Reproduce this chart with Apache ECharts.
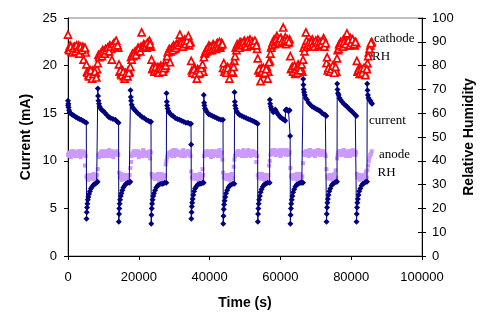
<!DOCTYPE html>
<html><head><meta charset="utf-8">
<script src="https://cdn.jsdelivr.net/npm/echarts@6/dist/echarts.min.js"></script>
<style>html,body{margin:0;padding:0;background:#fff}#c{width:492px;height:328px}</style>
</head><body><div id="c"></div>
<script>
// ---- Current (mA) vs time (s) ----
const currentTime = [
  0,40,100,180,300,450,650,1000,1400,1800,2200,2700,3200,3700,4200,4700,5170,
  5230,5300,5380,5480,5600,5750,5950,6200,6500,6850,7250,7700,8100,8360,
  8420,8500,8600,8750,8930,9200,9600,10060,10500,11000,11470,12000,12700,13360,13900,14290,
  14350,14420,14500,14600,14730,14900,15100,15350,15650,16000,16400,16850,17300,17600,
  17660,17740,17840,18000,18300,18700,19200,19700,20300,20900,21500,22100,22700,23200,23450,
  23510,23580,23660,23760,23900,24080,24300,24600,24950,25350,25800,26300,26800,27300,27770,
  27830,27910,28000,28150,28400,28750,29200,29700,30300,30900,31500,32100,32700,33300,33900,34400,34750,34790,
  34830,34900,34980,35080,35220,35400,35620,35900,36250,36650,37100,37550,38000,38310,
  38370,38450,38550,38700,38950,39300,39750,40250,40800,41400,42000,42600,43200,43790,
  43850,43920,44000,44100,44240,44420,44650,44950,45300,45700,46150,46600,46980,
  47040,47120,47220,47380,47650,48000,48500,49100,49700,50300,50900,51500,52100,52700,53200,53560,
  53620,53690,53770,53870,54000,54180,54400,54700,55050,55450,55900,56400,56950,
  57010,57100,57250,57450,57700,58000,58300,58550,58800,59100,59500,59900,60300,60700,61100,61350,61450,61700,62000,62300,62600,62750,
  62820,62890,62970,63070,63200,63380,63600,63900,64250,64650,65100,65600,66050,66380,
  66440,66500,66580,66700,66900,67150,67500,67950,68450,68950,69450,69900,70400,70850,71300,71800,72300,72700,72970,
  73030,73100,73180,73280,73410,73590,73810,74100,74450,74850,75300,75750,75990,
  76050,76130,76250,76450,76700,77000,77400,77900,78400,78800,79300,79800,80200,80700,81160,81440,
  81500,81570,81650,81750,81880,82060,82280,82570,82920,83320,83770,84200,84460,
  84520,84600,84720,84900,85150,85400,85650,85900
];
const currentValue = [
  16.3,15.8,16.0,15.6,15.3,15.1,15.0,14.9,14.8,14.7,14.6,14.5,14.4,14.3,14.2,14.1,14.0,
  3.9,4.6,5.1,5.5,5.9,6.2,6.5,6.8,7.1,7.3,7.5,7.6,7.7,7.8,
  17.6,16.8,16.3,16.0,15.7,15.5,15.3,15.2,15.0,14.8,14.6,14.5,14.4,14.3,14.1,14.0,
  3.6,4.4,5.0,5.5,5.9,6.3,6.6,6.9,7.2,7.4,7.6,7.7,7.7,7.8,
  17.4,16.7,16.3,15.9,15.6,15.4,15.2,15.0,14.8,14.6,14.5,14.3,14.2,14.1,14.1,
  3.4,4.3,5.0,5.5,5.9,6.3,6.6,6.9,7.2,7.4,7.5,7.6,7.6,7.7,7.7,
  17.1,16.2,15.8,15.5,15.2,15.0,14.8,14.7,14.5,14.4,14.3,14.2,14.1,14.0,14.0,13.9,13.9,11.7,
  3.9,4.6,5.2,5.6,6.0,6.4,6.8,7.1,7.3,7.5,7.6,7.6,7.7,7.7,
  16.9,16.1,15.8,15.5,15.3,15.1,14.9,14.8,14.7,14.6,14.5,14.4,14.3,14.3,
  3.4,4.2,4.9,5.4,5.8,6.2,6.6,6.9,7.2,7.4,7.5,7.6,7.6,
  17.2,16.2,15.8,15.5,15.2,15.0,14.8,14.7,14.6,14.5,14.4,14.3,14.2,14.1,14.0,13.9,
  3.6,4.4,5.0,5.5,5.9,6.3,6.7,7.0,7.3,7.5,7.6,7.7,7.7,
  16.4,16.0,15.7,15.5,15.3,15.1,15.2,15.4,15.2,15.0,14.8,14.6,14.5,14.4,14.3,14.2,15.3,15.4,15.3,15.2,15.3,12.6,
  3.4,4.3,5.0,5.5,5.9,6.3,6.7,7.0,7.3,7.5,7.6,7.7,7.7,7.7,
  18.6,18.0,17.5,17.2,16.9,16.6,16.4,16.1,15.9,15.7,15.6,15.5,15.4,15.3,15.2,15.0,14.9,14.8,14.7,
  3.6,4.4,5.1,5.6,6.0,6.4,6.8,7.1,7.4,7.6,7.7,7.8,7.8,
  18.1,17.5,17.1,16.9,16.6,16.4,16.2,16.0,15.8,15.7,15.5,15.3,15.2,15.0,14.8,14.7,
  3.6,4.4,5.1,5.6,6.0,6.4,6.8,7.1,7.4,7.6,7.7,7.8,7.8,
  18.1,17.4,16.9,16.6,16.4,16.3,16.1,16.0
];

// ---- Relative humidity, first sample set (s) ----
const rhTime = [
  0,400,800,1200,1600,2000,2400,2800,3200,3600,4000,4400,4800,
  5200,5600,6000,6400,6800,7200,7600,8000,
  8400,8800,9200,9600,10000,10400,10800,11200,11600,12000,12400,12800,13200,13600,14000,
  14400,14800,15200,15600,16000,16400,16800,17200,17600,
  18000,18400,18800,19200,19600,20000,20400,20800,21200,21600,22000,22400,22800,23200,
  23600,24000,24400,24800,25200,25600,26000,26400,26800,27200,27600,
  28000,28400,28800,29200,29600,30000,30400,30800,31200,31600,32000,32400,32800,33200,33600,34000,34400,
  34800,35200,35600,36000,36400,36800,37200,37600,38000,
  38400,38800,39200,39600,40000,40400,40800,41200,41600,42000,42400,42800,43200,43600,
  44000,44400,44800,45200,45600,46000,46400,46800,
  47200,47600,48000,48400,48800,49200,49600,50000,50400,50800,51200,51600,52000,52400,52800,53200,
  53600,54000,54400,54800,55200,55600,56000,56400,56800,
  57200,57600,58000,58400,58800,59200,59600,60000,60400,60800,61200,61600,62000,62400,
  62800,63200,63600,64000,64400,64800,65200,65600,66000,
  66400,66800,67200,67600,68000,68400,68800,69200,69600,70000,70400,70800,71200,71600,72000,72400,72800,
  73200,73600,74000,74400,74800,75200,75600,
  76000,76400,76800,77200,77600,78000,78400,78800,79200,79600,80000,80400,80800,81200,
  81600,82000,82400,82800,83200,83600,84000,84400,
  84800,85200,85600
];
const cathodeRH = [
  93.0,86.5,88.0,85.5,87.5,86.0,88.5,87.0,85.0,88.0,86.5,82.5,87.5,
  80.5,77.0,75.5,78.0,74.5,76.5,77.5,75.0,
  81.0,83.5,85.0,84.0,86.0,85.0,86.5,87.5,86.0,88.0,82.5,89.0,88.0,90.5,88.5,
  80.5,78.0,76.0,77.5,74.5,76.5,75.5,77.0,79.5,
  82.5,84.0,85.5,84.5,86.5,87.0,86.0,94.0,87.5,88.5,88.0,89.5,88.5,89.0,
  82.5,79.0,77.5,79.5,78.0,77.0,79.0,78.5,77.5,79.0,80.0,
  84.0,86.0,81.5,87.0,86.5,88.0,87.5,89.0,88.5,93.0,89.5,88.0,90.0,89.0,90.5,92.5,89.5,
  82.0,77.0,78.5,76.5,74.5,78.0,77.0,79.0,80.5,
  83.5,85.5,86.0,87.5,86.5,88.0,87.0,88.5,87.5,89.0,88.0,90.0,88.5,89.0,
  81.0,78.5,77.0,79.0,74.5,78.0,77.5,79.5,
  84.0,86.5,88.0,87.5,89.0,88.5,90.0,89.0,88.0,90.5,89.5,88.5,90.0,89.0,90.5,88.5,
  83.0,78.5,73.5,77.5,79.0,77.0,78.5,74.5,81.5,
  85.0,88.5,90.0,89.0,91.0,90.0,89.5,91.5,90.0,96.0,90.5,89.0,91.0,90.0,
  84.0,79.0,77.5,80.0,78.5,77.0,79.5,78.0,80.5,
  82.5,86.0,94.0,88.0,89.5,88.5,90.0,89.0,88.0,90.5,89.5,88.5,90.0,89.0,90.5,88.0,89.5,
  83.5,79.0,77.5,78.5,80.0,77.0,79.5,
  83.0,87.0,88.5,89.5,88.0,90.0,89.0,93.5,90.5,88.5,89.5,91.0,89.0,90.0,
  82.0,78.0,76.5,78.5,77.0,79.0,76.0,78.5,
  84.0,87.0,89.5
];
const anodeRH = [
  42.5,43.5,41.5,43.0,44.0,42.0,43.5,42.5,44.0,41.5,43.0,42.5,38.0,
  33.5,32.0,34.0,33.0,32.5,34.5,33.0,32.0,
  36.5,41.5,43.0,42.0,44.0,43.5,42.0,43.0,44.5,42.5,43.0,41.5,43.5,42.5,43.0,
  35.0,33.5,32.0,33.5,34.0,32.5,33.0,34.0,37.0,
  42.0,43.5,42.5,44.0,43.0,41.5,43.5,42.0,44.5,43.0,42.5,43.5,42.0,41.0,
  34.5,33.0,32.5,34.0,33.5,32.0,33.0,34.5,32.5,33.5,38.5,
  41.5,43.0,42.5,44.0,43.5,42.0,44.5,43.0,42.5,43.5,42.0,44.0,43.0,42.5,43.5,44.0,42.5,
  35.5,33.0,32.5,34.0,33.5,32.0,34.5,33.0,36.5,
  42.0,43.5,44.0,42.5,43.0,41.5,44.0,43.0,42.5,43.5,42.0,44.5,43.0,40.5,
  33.0,34.0,32.5,33.5,32.0,34.0,33.0,37.5,
  42.0,43.0,44.0,42.5,43.5,42.0,44.5,43.0,42.5,44.0,43.0,42.0,43.5,44.0,42.5,39.5,
  34.0,33.5,32.5,34.5,33.0,32.0,34.0,33.5,38.0,
  42.5,44.0,43.0,44.5,42.5,43.5,44.0,42.0,43.5,44.5,43.0,42.5,44.0,43.0,
  37.0,33.0,32.5,34.0,33.5,32.0,33.5,34.5,33.0,
  39.0,42.5,44.0,43.5,42.0,44.5,43.0,43.5,42.5,44.0,43.0,44.5,42.5,43.5,44.0,43.0,42.0,
  33.5,32.5,34.0,33.0,32.0,34.5,36.0,
  41.0,43.5,42.5,44.0,43.0,44.5,42.5,43.5,44.0,42.0,43.5,44.5,43.0,42.5,
  34.5,33.0,32.0,34.0,33.5,32.5,34.0,33.0,
  38.0,41.5,43.0
];

// ---- Relative humidity, second (interleaved) sample set (s) ----
const rhTime2 = [
  200,600,1000,1400,1800,2200,2600,3000,3400,3800,4200,4600,5000,
  5400,5800,6200,6600,7000,7400,7800,8200,
  8600,9000,9400,9800,10200,10600,11000,11400,11800,12200,12600,13000,13400,13800,14200,
  14600,15000,15400,15800,16200,16600,17000,17400,
  17800,18200,18600,19000,19400,19800,20200,20600,21000,21400,21800,22200,22600,23000,23400,
  23800,24200,24600,25000,25400,25800,26200,26600,27000,27400,
  27800,28200,28600,29000,29400,29800,30200,30600,31000,31400,31800,32200,32600,33000,33400,33800,34200,34600,
  35000,35400,35800,36200,36600,37000,37400,37800,38200,
  38600,39000,39400,39800,40200,40600,41000,41400,41800,42200,42600,43000,43400,
  43800,44200,44600,45000,45400,45800,46200,46600,
  47000,47400,47800,48200,48600,49000,49400,49800,50200,50600,51000,51400,51800,52200,52600,53000,53400,
  53800,54200,54600,55000,55400,55800,56200,56600,
  57000,57400,57800,58200,58600,59000,59400,59800,60200,60600,61000,61400,61800,62200,62600,
  63000,63400,63800,64200,64600,65000,65400,65800,66200,
  66600,67000,67400,67800,68200,68600,69000,69400,69800,70200,70600,71000,71400,71800,72200,72600,
  73000,73400,73800,74200,74600,75000,75400,75800,
  76200,76600,77000,77400,77800,78200,78600,79000,79400,79800,80200,80600,81000,81400,
  81800,82200,82600,83000,83400,83800,84200,
  84600,85000,85400,85800
];
const cathodeRH2 = [
  87.0,88.5,86.0,87.5,88.0,86.5,87.0,88.5,87.5,86.0,88.0,87.0,85.5,
  77.5,76.0,77.0,76.5,78.0,75.5,77.0,78.5,
  84.5,84.0,85.5,86.5,85.0,87.0,86.0,87.5,88.5,87.0,88.5,89.5,88.0,89.0,87.5,
  77.5,76.5,78.0,75.5,77.0,76.0,78.0,77.5,
  83.5,85.0,84.5,86.0,85.5,87.5,86.5,88.0,87.5,89.0,88.5,87.5,89.5,90.5,88.0,
  78.5,80.0,78.0,77.5,79.5,78.0,80.0,77.5,78.5,79.0,
  82.5,85.5,87.0,86.0,87.5,88.5,87.0,89.0,88.0,89.5,90.5,89.0,90.0,91.0,89.5,90.5,88.5,90.0,
  78.0,77.5,79.0,77.0,78.5,76.5,78.0,79.5,77.5,
  85.0,86.5,87.0,88.5,87.5,86.5,89.0,88.0,87.0,89.5,88.5,87.5,89.5,
  79.0,77.5,78.5,79.5,77.0,78.5,80.0,77.0,
  82.0,87.5,89.0,88.0,90.0,89.5,88.5,90.5,89.0,90.0,88.5,91.0,89.0,90.0,88.5,89.5,87.0,
  78.0,77.0,79.0,78.5,76.5,78.0,79.5,77.5,
  82.0,87.5,89.5,91.0,90.0,92.5,89.5,90.5,91.5,89.5,90.5,92.0,90.0,89.5,91.0,
  78.5,79.5,78.0,76.5,79.0,80.5,78.0,79.0,77.5,
  87.5,89.0,90.5,89.0,88.5,90.5,91.0,89.5,88.5,90.0,91.0,89.5,88.5,90.0,91.5,89.0,
  81.0,78.0,79.5,77.5,78.5,80.0,78.0,77.5,
  86.5,89.0,90.0,88.5,91.0,89.5,90.5,88.5,90.0,91.5,89.0,90.5,88.5,89.5,
  77.5,79.0,78.0,76.5,78.5,77.0,79.5,
  81.0,85.5,88.5,90.0
];
const anodeRH2 = [
  43.0,42.0,44.0,42.5,43.5,43.0,42.0,44.0,43.0,42.5,44.0,43.5,42.0,
  33.0,34.0,32.5,33.5,34.0,32.5,33.5,34.0,
  42.5,43.0,44.0,42.5,43.5,42.0,44.0,43.0,42.0,43.5,44.0,42.5,43.0,44.0,42.5,
  33.0,34.5,33.0,32.5,34.0,33.5,32.5,34.0,
  39.5,43.0,44.0,42.5,43.5,44.0,42.5,43.0,42.0,44.0,43.5,42.0,43.0,44.0,43.5,
  33.5,34.0,32.5,33.0,34.5,33.5,32.5,34.0,33.0,34.0,
  40.0,42.5,43.5,43.0,42.0,44.5,43.5,42.5,44.0,43.0,42.5,43.5,44.5,42.0,43.0,44.0,43.5,42.0,
  33.0,34.0,33.5,32.5,34.0,33.0,33.5,32.5,34.0,
  43.0,42.5,44.0,43.5,42.5,44.0,42.0,43.5,44.0,42.5,43.0,42.0,43.5,
  35.0,33.5,32.5,34.0,33.5,33.0,34.5,32.5,
  40.5,42.5,43.5,44.0,43.0,42.5,44.0,43.5,42.0,43.5,44.5,42.5,43.0,44.0,42.5,43.5,42.0,
  33.0,34.5,33.0,32.5,34.0,33.5,32.5,34.0,
  40.0,43.0,44.5,43.5,42.5,44.0,43.0,44.5,42.5,43.5,44.0,43.0,44.5,42.5,43.5,
  33.5,34.0,32.5,33.0,34.5,33.0,34.0,32.5,33.5,
  43.5,42.5,44.0,43.0,44.5,42.5,43.5,44.0,42.0,43.5,44.5,43.0,42.5,44.0,43.5,42.5,
  36.5,33.0,34.0,32.5,33.5,34.0,32.5,33.0,
  42.5,44.0,43.0,42.5,44.5,43.5,42.0,43.0,44.0,43.5,42.5,43.0,44.0,43.5,
  33.0,34.0,32.5,33.5,34.0,33.0,35.5,
  36.0,40.0,42.5,44.0
];

const xTicks = {min: 0, max: 100000, interval: 20000};
const leftTicks = {min: 0, max: 25, interval: 5};
const rightTicks = {min: 0, max: 100, interval: 10};

const pair = (ts, vs) => ts.map((t, i) => [t, vs[i]]).filter(p => p[1] !== undefined);

const sans = '"Liberation Sans", Arial, sans-serif';
const serif = '"Liberation Serif", "Times New Roman", serif';
const tickLabel = {fontFamily: sans, fontSize: 13, color: '#000'};
const axisName = {fontFamily: sans, fontSize: 14, fontWeight: 'bold', color: '#000'};

const cathodeStyle = {color: '#ffffff', borderColor: '#FF0000', borderWidth: 1.7, opacity: 1};

const chart = echarts.init(document.getElementById('c'), null, {renderer: 'canvas'});
chart.setOption({
  animation: false,
  backgroundColor: '#fff',
  grid: {left: 68, right: 70, top: 18, bottom: 72, containLabel: false, outerBoundsMode: 'none',
         show: true, borderColor: '#808080', borderWidth: 1, backgroundColor: 'transparent'},
  xAxis: {
    type: 'value', min: xTicks.min, max: xTicks.max, interval: xTicks.interval,
    name: 'Time (s)', nameLocation: 'middle', nameGap: 40, nameMoveOverlap: false, nameTextStyle: axisName,
    axisLine: {show: true, lineStyle: {color: '#000', width: 1}},
    axisTick: {show: true, length: 4, lineStyle: {color: '#000'}},
    axisLabel: Object.assign({margin: 15, formatter: v => String(v)}, tickLabel),
    splitLine: {show: false}
  },
  yAxis: [
    {
      type: 'value', position: 'left', min: leftTicks.min, max: leftTicks.max, interval: leftTicks.interval,
      name: 'Current (mA)', nameLocation: 'middle', nameGap: 35, nameMoveOverlap: false, nameTextStyle: axisName,
      axisLine: {show: true, lineStyle: {color: '#000', width: 1}},
      axisTick: {show: true, length: 4, lineStyle: {color: '#000'}},
      axisLabel: Object.assign({margin: 11}, tickLabel),
      splitLine: {show: false}
    },
    {
      type: 'value', position: 'right', min: rightTicks.min, max: rightTicks.max, interval: rightTicks.interval,
      name: 'Relative Humidity', nameLocation: 'middle', nameGap: 40, nameMoveOverlap: false, nameTextStyle: axisName,
      axisLine: {show: true, lineStyle: {color: '#000', width: 1}},
      axisTick: {show: true, length: 4, lineStyle: {color: '#000'}},
      axisLabel: Object.assign({margin: 10}, tickLabel),
      splitLine: {show: false}
    },
    {
      type: 'value', position: 'right', min: rightTicks.min, max: rightTicks.max, interval: rightTicks.interval,
      axisLine: {show: false},
      axisTick: {show: true, inside: true, length: 4, lineStyle: {color: '#000'}},
      axisLabel: {show: false},
      splitLine: {show: false}
    }
  ],
  series: [
    {
      name: 'anode RH', type: 'scatter', yAxisIndex: 1,
      data: pair(rhTime, anodeRH).concat(pair(rhTime2, anodeRH2)),
      symbol: 'rect', symbolSize: [4, 4],
      itemStyle: {color: '#CC99FF', opacity: 1}
    },
    {
      name: 'cathode RH', type: 'scatter', yAxisIndex: 1,
      data: pair(rhTime2, cathodeRH2).concat(pair(rhTime, cathodeRH)),
      symbol: 'triangle', symbolSize: 7,
      itemStyle: cathodeStyle
    },
    {
      name: 'current', type: 'line', yAxisIndex: 0,
      data: pair(currentTime, currentValue),
      symbol: 'diamond', symbolSize: 6, showSymbol: true, showAllSymbol: true,
      lineStyle: {color: '#000080', width: 1},
      itemStyle: {color: '#000080'}
    }
  ],
  graphic: [
    {type: 'text', x: 374, y: 39, style: {text: 'cathode', font: '13px ' + serif, fill: '#000', verticalAlign: 'middle', align: 'left'}},
    {type: 'text', x: 372, y: 57, style: {text: 'RH', font: '13px ' + serif, fill: '#000', verticalAlign: 'middle', align: 'left'}},
    {type: 'text', x: 369, y: 120.5, style: {text: 'current', font: '13px ' + serif, fill: '#000', verticalAlign: 'middle', align: 'left'}},
    {type: 'text', x: 379, y: 155, style: {text: 'anode', font: '13px ' + serif, fill: '#000', verticalAlign: 'middle', align: 'left'}},
    {type: 'text', x: 377.5, y: 173, style: {text: 'RH', font: '13px ' + serif, fill: '#000', verticalAlign: 'middle', align: 'left'}}
  ]
});
</script></body></html>
